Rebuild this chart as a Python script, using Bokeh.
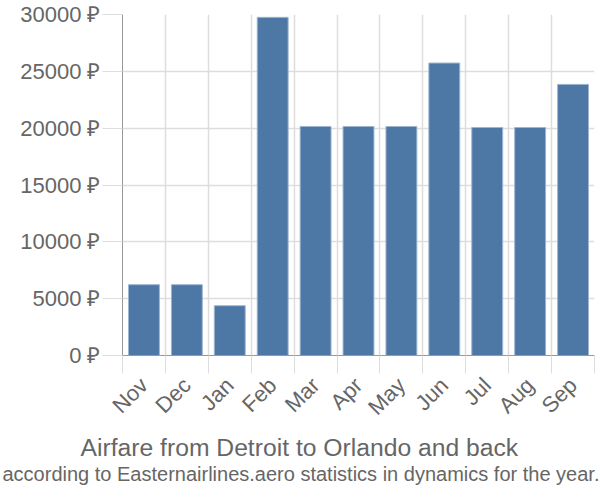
import math
from bokeh.plotting import figure
from bokeh.models import Range1d, FixedTicker, PrintfTickFormatter, Title
from bokeh.embed import file_html
from bokeh.resources import INLINE

months = ["Nov", "Dec", "Jan", "Feb", "Mar", "Apr", "May", "Jun", "Jul", "Aug", "Sep"]
prices = [6230, 6230, 4380, 29750, 20150, 20150, 20150, 25730, 20060, 20060, 23850]
y_ticks = [0, 5000, 10000, 15000, 20000, 25000, 30000]

n = len(months)
centers = [i + 0.5 for i in range(n)]
bounds = list(range(n + 1))

p = figure(width=600, height=500, output_backend="svg", toolbar_location=None,
           x_range=Range1d(0, n), y_range=Range1d(0, 30000),
           min_border_left=122, min_border_right=6, min_border_top=14, min_border_bottom=145)
p.outline_line_color = None

p.vbar(x=centers, top=prices, width=0.72, fill_color="#4d78a6", line_color="#9db5d0", line_width=1)

TXT = "#666666"
FONT = "Liberation Sans"

p.xaxis.ticker = FixedTicker(ticks=centers, minor_ticks=bounds)
p.xaxis.major_label_overrides = {c: m for c, m in zip(centers, months)}
p.xaxis.major_tick_line_color = None
p.xaxis.minor_tick_line_color = "#dddddd"
p.xaxis.minor_tick_out = 18
p.xaxis.minor_tick_in = 0
p.xaxis.major_label_orientation = math.pi / 4
p.xaxis.major_label_standoff = 8
p.xaxis.axis_line_color = "#999999"
p.xaxis.major_label_text_color = TXT
p.xaxis.major_label_text_font = FONT
p.xaxis.major_label_text_font_size = "22px"

p.yaxis.ticker = FixedTicker(ticks=y_ticks)
p.yaxis.formatter = PrintfTickFormatter(format="%d ₽")
p.yaxis.major_tick_line_color = "#dddddd"
p.yaxis.major_tick_out = 20
p.yaxis.major_tick_in = 0
p.yaxis.minor_tick_line_color = None
p.yaxis.axis_line_color = "#999999"
p.yaxis.major_label_text_color = TXT
p.yaxis.major_label_text_font = FONT
p.yaxis.major_label_text_font_size = "22px"
p.yaxis.major_label_standoff = 2

p.xgrid.ticker = FixedTicker(ticks=bounds)
p.xgrid.grid_line_color = "#dddddd"
p.xgrid.grid_line_width = 1.5
p.ygrid.grid_line_color = "#dddddd"
p.ygrid.grid_line_width = 1.5

t1 = Title(text="Airfare from Detroit to Orlando and back", align="left",
           text_font=FONT, text_font_size="24.7px", text_font_style="normal",
           text_color=TXT, standoff=0, offset=-42)
t2 = Title(text="according to Easternairlines.aero statistics in dynamics for the year.",
           align="left", text_font=FONT, text_font_size="20px",
           text_font_style="normal", text_color=TXT, standoff=0, offset=-120)
p.add_layout(t1, "below")
p.add_layout(t2, "below")

open("out.html", "w").write(file_html(p, INLINE))
